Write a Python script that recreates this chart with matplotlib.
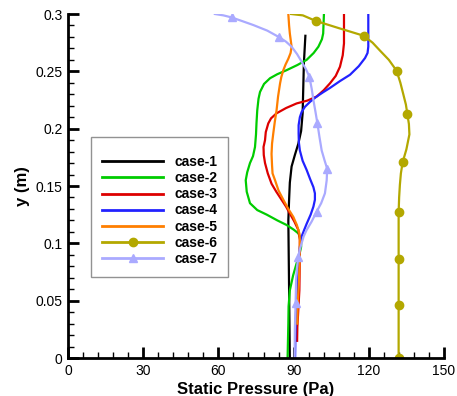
import matplotlib
matplotlib.use("Agg")
import matplotlib.pyplot as plt
from matplotlib.ticker import MultipleLocator

plt.rcParams['font.family'] = ['Liberation Sans', 'DejaVu Sans']

# ---- data ----
c1_y = [0.281, 0.257, 0.2134, 0.198, 0.187, 0.177, 0.167, 0.153, 0.138, 0.12, 0.06, 0.0]
c1_x = [94.7, 94.1, 93.6, 93.0, 91.9, 90.5, 89.2, 88.5, 88.2, 87.9, 88.2, 88.5]

c2_y = [0.3, 0.283, 0.278, 0.2715, 0.266, 0.26, 0.2555, 0.251, 0.2475, 0.244, 0.239,
        0.232, 0.226, 0.216, 0.205, 0.195, 0.184, 0.176, 0.17, 0.162, 0.155, 0.145,
        0.135, 0.129, 0.125, 0.12, 0.116, 0.112, 0.1087, 0.103, 0.097, 0.09, 0.0826,
        0.072, 0.059, 0.045, 0.03, 0.0]
c2_x = [102.1, 101.8, 101.3, 99.9, 98.0, 95.2, 91.5, 87.2, 83.5, 80.6, 78.2,
        76.6, 76.0, 75.5, 75.2, 75.0, 74.6, 73.8, 72.6, 71.5, 70.9, 71.3,
        72.6, 75.5, 79.3, 83.5, 87.2, 90.0, 91.9, 93.0, 93.0, 92.3, 91.2,
        89.8, 88.5, 88.0, 87.9, 87.6]

c3_y = [0.3, 0.2744, 0.264, 0.254, 0.246, 0.2395, 0.2335, 0.228, 0.2245, 0.222, 0.218,
        0.2134, 0.209, 0.2046, 0.197, 0.19, 0.184, 0.177, 0.17, 0.161, 0.152, 0.145,
        0.138, 0.132, 0.126, 0.119, 0.1116, 0.103, 0.09, 0.059, 0.027, 0.015]
c3_x = [110.1, 110.1, 109.6, 108.5, 106.8, 104.5, 102.0, 99.2, 95.5, 91.2, 87.0,
        83.2, 81.0, 79.9, 78.9, 78.6, 78.0, 78.1, 78.6, 79.7, 81.2, 83.1,
        85.2, 87.0, 88.5, 90.3, 91.9, 92.5, 92.5, 92.3, 91.5, 91.4]

c4_y = [0.3, 0.2715, 0.266, 0.2616, 0.2545, 0.247, 0.2415, 0.2355, 0.2318, 0.228, 0.2235,
        0.219, 0.2145, 0.21, 0.203, 0.196, 0.188, 0.181, 0.172, 0.164, 0.156, 0.149,
        0.1436, 0.138, 0.132, 0.125, 0.117, 0.1116, 0.106, 0.097, 0.085, 0.074, 0.053,
        0.03, 0.0]
c4_x = [119.8, 119.8, 119.5, 118.5, 116.0, 112.5, 108.5, 104.5, 101.8, 99.2, 96.6,
        94.5, 93.2, 92.5, 92.0, 92.0, 92.1, 92.5, 93.6, 95.2, 96.6, 97.9,
        98.5, 98.5, 97.9, 96.8, 95.2, 94.2, 93.2, 92.5, 92.1, 91.9, 91.2,
        90.8, 90.6]

c5_y = [0.3, 0.29, 0.283, 0.2715, 0.266, 0.261, 0.256, 0.251, 0.245, 0.2395, 0.228,
        0.216, 0.206, 0.196, 0.187, 0.178, 0.168, 0.161, 0.155, 0.146, 0.138, 0.13,
        0.123, 0.116, 0.1087, 0.103, 0.085, 0.065, 0.045, 0.03]
c5_x = [87.9, 88.2, 88.5, 89.2, 88.8, 87.9, 86.8, 85.9, 85.1, 84.6, 83.8,
        83.2, 82.5, 81.9, 81.4, 81.2, 81.4, 81.6, 82.6, 84.0, 85.9, 87.9,
        89.9, 91.3, 92.3, 92.5, 92.4, 92.1, 91.6, 91.5]

c6_y = [0.3, 0.2988, 0.294, 0.2877, 0.281, 0.275, 0.268, 0.26, 0.2505, 0.24, 0.2297,
        0.221, 0.2125, 0.204, 0.195, 0.182, 0.1707, 0.161, 0.151, 0.14, 0.127,
        0.0863, 0.0465, 0.0]
c6_x = [89.0, 93.7, 98.8, 108.0, 118.0, 121.5, 124.5, 128.0, 131.1, 132.6, 133.8,
        134.8, 135.4, 136.0, 136.2, 135.0, 133.5, 132.8, 132.4, 132.1, 131.9,
        131.9, 131.9, 131.9]
c6_marks = [2, 4, 8, 12, 16, 20, 21, 22, 23]

c7_y = [0.3, 0.2988, 0.297, 0.2938, 0.2904, 0.2855, 0.2797, 0.2758, 0.2715, 0.265,
        0.2584, 0.252, 0.2453, 0.235, 0.225, 0.215, 0.2046, 0.193, 0.181, 0.172,
        0.165, 0.155, 0.1436, 0.135, 0.1277, 0.119, 0.1116, 0.106, 0.1, 0.094,
        0.0884, 0.078, 0.068, 0.0477, 0.025, 0.0]
c7_x = [58.6, 62.0, 65.3, 69.5, 73.9, 79.5, 84.3, 87.0, 89.2, 91.4,
        93.2, 94.9, 96.3, 97.2, 97.9, 98.7, 99.5, 100.3, 101.2, 102.4,
        103.4, 103.2, 102.5, 101.0, 99.2, 97.2, 95.2, 94.0, 93.2, 92.4,
        91.9, 91.3, 91.0, 90.8, 90.5, 90.4]
c7_marks = [2, 6, 12, 16, 20, 24, 30, 33]

labels = ['case-1', 'case-2', 'case-3', 'case-4', 'case-5', 'case-6', 'case-7']
colors = ['#000000', '#00cc00', '#dd0000', '#2222ff', '#ff7f00', '#b3a800', '#aaaaff']

x_ticks = [0, 30, 60, 90, 120, 150]
y_ticks = [0, 0.05, 0.1, 0.15, 0.2, 0.25, 0.3]
y_tick_labels = ['0', '0.05', '0.1', '0.15', '0.2', '0.25', '0.3']

# ---- figure ----
fig = plt.figure(figsize=(4.57, 3.96), dpi=100)
ax = fig.add_axes([68/457, 38/396, 376/457, 344/396])

lw = 1.6
series = [(c1_x, c1_y, None, None), (c2_x, c2_y, None, None), (c3_x, c3_y, None, None),
          (c4_x, c4_y, None, None), (c5_x, c5_y, None, None),
          (c6_x, c6_y, 'o', c6_marks), (c7_x, c7_y, '^', c7_marks)]
for (xs, ys, mk, me), lab, col in zip(series, labels, colors):
    ax.plot(xs, ys, color=col, lw=lw, label=lab, marker=mk, ms=6, markevery=me,
            solid_joinstyle='round')

ax.set_xlim(0, 150)
ax.set_ylim(0, 0.3)
ax.set_xticks(x_ticks)
ax.set_yticks(y_ticks)
ax.set_yticklabels(y_tick_labels)
ax.xaxis.set_minor_locator(MultipleLocator(6))
ax.yaxis.set_minor_locator(MultipleLocator(0.01))

for s in ['top', 'right']:
    ax.spines[s].set_visible(False)
for s in ['left', 'bottom']:
    ax.spines[s].set_linewidth(2)

ax.tick_params(which='major', direction='in', length=8, width=2, labelsize=10, pad=4)
ax.tick_params(which='minor', direction='in', length=4, width=1)

ax.set_xlabel('Static Pressure (Pa)', fontsize=12, fontweight='bold', labelpad=3)
ax.set_ylabel('y (m)', fontsize=12, fontweight='bold', labelpad=4)

leg = ax.legend(loc='upper left', bbox_to_anchor=(91/457, 1 - 137/396),
                bbox_transform=fig.transFigure, frameon=True,
                fancybox=False, edgecolor='#777777', handlelength=4.4,
                handletextpad=0.8, labelspacing=0.15, borderpad=0.8,
                borderaxespad=0, prop={'weight': 'bold', 'size': 10},
                title=' ', title_fontsize=4)
leg.get_frame().set_linewidth(1.0)
for line in leg.get_lines():
    line.set_linewidth(2)

fig.savefig('out.png', dpi=100)
